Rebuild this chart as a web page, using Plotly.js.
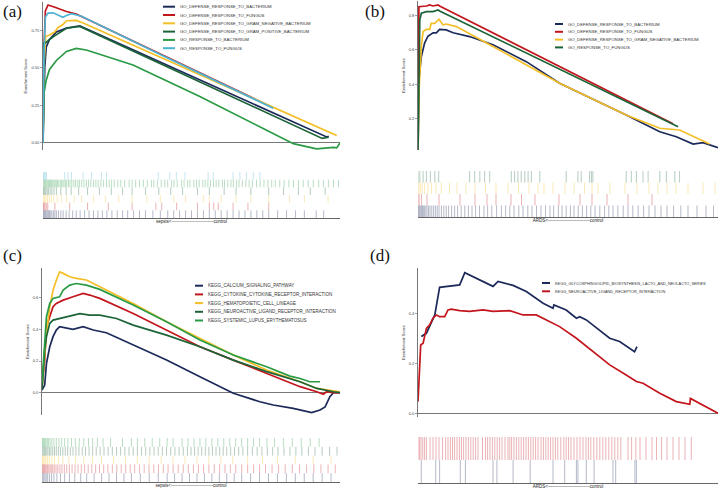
<!DOCTYPE html>
<html><head><meta charset="utf-8">
<script src="https://cdn.plot.ly/plotly-3.0.1.min.js"></script>
<style>html,body{margin:0;padding:0;background:#fff}#p{width:720px;height:491px}</style>
</head><body><div id="p"></div>
<script>
// ---------- DATA ----------
// Panel (a) GO gene sets, sepsis vs control (rank 0..1000)
const aNames = ["GO_DEFENSE_RESPONSE_TO_BACTERIUM","GO_DEFENSE_RESPONSE_TO_FUNGUS","GO_DEFENSE_RESPONSE_TO_GRAM_NEGATIVE_BACTERIUM","GO_DEFENSE_RESPONSE_TO_GRAM_POSITIVE_BACTERIUM","GO_RESPONSE_TO_BACTERIUM","GO_RESPONSE_TO_FUNGUS"];
const aBactX = [0,6,11,22,45,79,124,300,500,700,900,955,962];
const aBactY = [0,0.51,0.64,0.69,0.74,0.766,0.78,0.623,0.445,0.267,0.089,0.04,0.045];
const aFungX = [0,3,8,17,40,79,112,250,400,550,700,775];
const aFungY = [0,0.62,0.88,0.92,0.905,0.877,0.86,0.73,0.588,0.447,0.306,0.235];
const aNegX = [0,3,9,22,39,51,67,79,112,135,300,500,700,900,989];
const aNegY = [0,0.5,0.71,0.72,0.74,0.77,0.79,0.815,0.817,0.80,0.655,0.48,0.304,0.128,0.05];
const aPosX = [0,3,11,22,39,79,124,300,500,700,900,940,962];
const aPosY = [0,0.665,0.67,0.69,0.714,0.765,0.777,0.616,0.433,0.25,0.067,0.03,0.038];
const aRespBX = [0,3,11,22,45,79,112,146,303,528,753,843,865,921,978,989,1000];
const aRespBY = [0,0.33,0.42,0.49,0.55,0.61,0.63,0.62,0.52,0.31,0.085,-0.005,-0.015,-0.04,-0.03,-0.033,0];
const aRespFX = [0,3,8,17,34,55,67,79,96,130,250,400,550,700,775];
const aRespFY = [0,0.58,0.84,0.866,0.868,0.85,0.838,0.85,0.862,0.845,0.727,0.585,0.444,0.303,0.232];
// hits (rug), listed in legend order
const aHitsBact = [0,2,4,6,8,10,13,16,19,22,26,30,35,40,45,52,60,68,78,88,100,112,125,140,155,170,185,200,215,232,250,268,285,305,325,345,370,395,420,440,460,480,500,520,540,560,580,600,620,640,660,680,700,720,740,760,790,820,850,880,920,945];
const aHitsFung = [0,1,2,4,7,11,16,40,90,150,220,300,380,400,450,520,560,575,590,640,690,760];
const aHitsNeg = [0,3,6,10,15,21,28,36,48,62,80,105,130,170,210,255,300,350,395,440,480,540,560,600,650,700,760,830,880,960];
const aHitsPos = [0,2,4,7,10,14,18,24,30,37,45,60,78,95,120,150,190,230,268,300,345,390,430,470,520,560,610,650,700,760,810,860,900,950];
const aHitsRespB = [0,3,5,8,10,13,16,19,22,25,28,31,34,38,41,45,49,53,58,62,67,71,76,80,86,91,97,104,110,117,123,130,138,146,153,161,170,178,186,195,204,214,223,231,240,252,262,275,290,300,312,325,338,351,365,373,385,398,410,420,433,441,452,466,475,487,495,508,517,526,538,546,555,564,574,583,592,604,611,622,633,641,652,660,671,683,694,705,719,731,744,757,770,782,797,812,828,843,860,876,893,910,928,944,961,978,995];
const aHitsRespF = [0,2,5,8,12,73,84,96,135,163,197,214,388,427,449,478,556,573,640,663,685,708,730];
const aTicks = [0,0.25,0.5,0.75];
const aTickText = ["0.00","0.25","0.50","0.75"];
const aLabel = "sepsis<----------------------------control";

// Panel (b) GO gene sets, ARDS vs control
const bNames = ["GO_DEFENSE_RESPONSE_TO_BACTERIUM","GO_DEFENSE_RESPONSE_TO_FUNGUS","GO_DEFENSE_RESPONSE_TO_GRAM_NEGATIVE_BACTERIUM","GO_RESPONSE_TO_FUNGUS"];
const bBactX = [0,3,11,22,33,50,61,72,94,117,172,250,361,472,694,806,861,917,950,1000];
const bBactY = [0,0.425,0.56,0.64,0.68,0.70,0.70,0.72,0.717,0.70,0.678,0.63,0.532,0.406,0.221,0.124,0.095,0.052,0.06,0.031];
const bFungX = [0,3,28,39,50,67,72,206,400,600,800,850];
const bFungY = [0,0.852,0.856,0.862,0.856,0.862,0.856,0.738,0.567,0.39,0.214,0.17];
const bNegX = [0,3,11,17,28,39,44,56,70,83,94,128,250,472,694,806,872,972];
const bNegY = [0,0.35,0.62,0.707,0.72,0.72,0.755,0.755,0.779,0.746,0.751,0.736,0.62,0.406,0.221,0.144,0.134,0.052];
const bRespFX = [0,6,11,28,50,67,72,200,400,600,800,867];
const bRespFY = [0,0.775,0.814,0.823,0.823,0.833,0.827,0.718,0.549,0.379,0.21,0.153];
const bHitsBact = [0,2,4,6,9,12,15,18,22,26,30,35,40,46,52,58,64,70,78,86,94,102,112,122,132,144,156,168,180,192,205,220,232,246,262,278,292,306,320,336,350,366,380,395,410,425,440,452,468,480,494,508,520,534,548,562,576,590,606,622,636,650,666,684,700,716,734,752,770,790,810,830,852,876,900,930,960,985];
const bHitsFung = [0,4,12,30,70,140,190,230,260,310,345,390,470,540,580,630,700,780];
const bHitsNeg = [0,3,8,14,22,33,45,60,78,105,130,160,190,225,260,300,335,370,400,420,450,490,520,555,580,600,640,690,730,770,800,830,860,900,950,990];
const bHitsRespF = [0,6,17,28,41,56,69,172,189,206,222,239,311,322,333,344,356,367,378,406,494,533,544,572,578,583,694,711,728,750,767,806,828,856,872];
const bTicks = [0.2,0.4,0.6,0.8];
const bTickText = ["0.2","0.4","0.6","0.8"];
const bLabel = "ARDS<----------------------------control";

// Panel (c) KEGG pathways, sepsis vs control
const cNames = ["KEGG_CALCIUM_SIGNALING_PATHWAY","KEGG_CYTOKINE_CYTOKINE_RECEPTOR_INTERACTION","KEGG_HEMATOPOIETIC_CELL_LINEAGE","KEGG_NEUROACTIVE_LIGAND_RECEPTOR_INTERACTION","KEGG_SYSTEMIC_LUPUS_ERYTHEMATOSUS"];
const cCalX = [0,9,15,26,37,48,59,82,104,138,172,216,306,418,530,642,731,776,843,905,933,950,961,966,978,1000];
const cCalY = [0.017,0.048,0.185,0.29,0.354,0.396,0.417,0.406,0.4,0.417,0.396,0.379,0.301,0.206,0.101,-0.004,-0.057,-0.078,-0.099,-0.126,-0.11,-0.09,-0.046,-0.025,0,0];
const cCytX = [0,9,15,26,37,48,71,104,138,160,194,306,418,530,642,754,866,922,944,955,978,1000];
const cCytY = [0.04,0.206,0.417,0.48,0.543,0.564,0.585,0.606,0.627,0.617,0.596,0.501,0.396,0.29,0.206,0.122,0.038,0.006,-0.01,0.006,0,0];
const cHemX = [0,15,26,37,48,59,71,93,115,149,194,306,418,530,642,754,866,922,978,1000];
const cHemY = [0.03,0.375,0.543,0.648,0.71,0.764,0.754,0.733,0.722,0.712,0.67,0.564,0.448,0.343,0.238,0.143,0.069,0.027,0.013,0.006];
const cNeuX = [0,9,15,26,37,59,82,104,127,160,194,250,306,418,530,642,709,754,866,922,978,1000];
const cNeuY = [0.02,0.27,0.354,0.438,0.459,0.469,0.48,0.49,0.5,0.49,0.49,0.469,0.427,0.364,0.29,0.206,0.164,0.133,0.069,0.027,0.006,0];
const cLupX = [0,15,26,37,59,71,93,115,149,194,306,418,530,642,754,832,866,899,933];
const cLupY = [0.06,0.48,0.564,0.596,0.606,0.648,0.68,0.69,0.68,0.653,0.554,0.448,0.333,0.238,0.164,0.105,0.09,0.069,0.069];
const cHitsCal = [0,3,6,10,14,19,25,32,40,50,62,76,92,110,130,150,175,200,225,250,275,300,330,360,390,420,445,470,495,520,545,570,595,620,645,670,700,730,760,790,820,850,880,910,940,970];
const cHitsCyt = [0,2,4,6,8,10,13,16,19,23,27,31,36,41,47,53,60,67,75,83,92,101,111,121,132,143,155,167,180,193,207,221,236,251,266,281,296,311,327,343,359,375,391,407,423,440,457,474,491,508,525,542,560,578,596,614,632,650,670,690,710,730,750,772,794,816,840,864,888,912,936,960,984];
const cHitsHem = [0,2,4,7,10,14,19,25,33,42,55,70,90,112,140,170,200,240,280,320,360,400,440,480,520,560,600,640,690,740,790,850,910,970];
const cHitsNeu = [0,3,6,9,12,16,20,25,30,36,42,48,55,62,70,78,86,95,104,114,124,135,146,158,170,182,195,208,222,236,250,264,278,292,306,320,334,348,362,376,390,404,418,432,446,460,474,488,500,512,524,536,548,560,572,584,596,608,620,633,646,660,674,690,706,722,738,756,774,792,812,832,852,872,894,916,940,965,990];
const cHitsLup = [0,2,4,6,8,11,14,18,22,27,33,40,48,57,66,76,87,99,112,125,140,156,170,186,205,230,270,300,320,345,370,395,420,440,470,490,510,530,550,570,590,610,630,650,670,690,710,730,755,780,810,840,870,900,930];
const cTicks = [0,0.2,0.4,0.6];
const cTickText = ["0.0","0.2","0.4","0.6"];
const cLabel = "sepsis<----------------------------control";

// Panel (d) KEGG pathways, ARDS vs control
const dNames = ["KEGG_GLYCOSPHINGOLIPID_BIOSYNTHESIS_LACTO_AND_NEOLACTO_SERIES","KEGG_NEUROACTIVE_LIGAND_RECEPTOR_INTERACTION"];
const dGlyX = [11,28,56,72,139,156,250,267,317,361,417,450,453,494,528,539,561,583,639,672,722,730];
const dGlyY = [0.309,0.322,0.396,0.507,0.517,0.566,0.511,0.531,0.515,0.49,0.443,0.423,0.436,0.416,0.383,0.389,0.376,0.356,0.302,0.289,0.248,0.268];
const dNeuX = [0,3,9,17,22,28,39,50,61,72,89,100,111,139,172,217,250,306,350,394,428,472,528,583,639,694,728,750,806,861,906,908,917,972,1000];
const dNeuY = [0.047,0.148,0.275,0.282,0.309,0.342,0.356,0.383,0.396,0.389,0.389,0.416,0.419,0.413,0.41,0.416,0.41,0.413,0.396,0.396,0.376,0.349,0.302,0.248,0.195,0.154,0.128,0.121,0.081,0.047,0.036,0.06,0.054,0.02,0];
const dHitsGly = [11,59,72,141,158,250,263,317,374,450,489,528,533,561,587,650,659,723,728];
const dHitsNeu = [0,5,10,16,22,28,40,50,60,70,82,92,100,108,115,122,130,138,145,152,160,168,176,184,192,200,215,225,232,240,248,256,264,272,280,290,300,306,312,320,328,336,344,352,360,368,376,384,392,400,410,418,426,434,442,450,458,466,476,486,494,502,510,520,530,540,550,560,568,576,586,596,606,616,626,636,646,656,666,676,700,712,726,740,760,780,795,812,830,850,870,890,911];
const dTicks = [0,0.2,0.4];
const dTickText = ["0.0","0.2","0.4"];
const dLabel = "ARDS<----------------------------control";

// ---------- STYLE ----------
const C = {navy:"#1c2a5a", red:"#c3151c", yellow:"#f4bf26", dgreen:"#1c6438", green:"#2a9a45", cyan:"#4db3d3"};
const W = 720, H = 491;
const px = v => v / W, py = v => 1 - v / H;
const FONT = "Liberation Sans, Arial, sans-serif";

const panels = [
  { id:"a", curves:[[aBactX,aBactY,C.navy],[aFungX,aFungY,C.red],[aNegX,aNegY,C.yellow],[aPosX,aPosY,C.dgreen],[aRespBX,aRespBY,C.green],[aRespFX,aRespFY,C.cyan]],
    names:aNames, hits:[aHitsBact,aHitsFung,aHitsNeg,aHitsPos,aHitsRespB,aHitsRespF],
    ticks:aTicks, tickText:aTickText, label:aLabel,
    xd:[43,340], yd:[2,150], yr:[-0.047,0.94], zero:true, rd:[172,218],
    leg:{x:163, y0:6.7, dy:8.3, len:12, fs:4.3}, tag:{x:1, y:11, t:"(a)"} },
  { id:"b", curves:[[bBactX,bBactY,C.navy],[bFungX,bFungY,C.red],[bNegX,bNegY,C.yellow],[bRespFX,bRespFY,C.dgreen]],
    names:bNames, hits:[bHitsBact,bHitsFung,bHitsNeg,bHitsRespF],
    ticks:bTicks, tickText:bTickText, label:bLabel,
    xd:[418,718], yd:[1,150], yr:[0.0175,0.885], zero:false, rd:[171,217],
    leg:{x:555, y0:24, dy:7.8, len:8, fs:4.3}, tag:{x:363, y:11, t:"(b)"} },
  { id:"c", curves:[[cCalX,cCalY,C.navy],[cCytX,cCytY,C.red],[cHemX,cHemY,C.yellow],[cNeuX,cNeuY,C.dgreen],[cLupX,cLupY,C.green]],
    names:cNames, hits:[cHitsCal,cHitsCyt,cHitsHem,cHitsNeu,cHitsLup],
    ticks:cTicks, tickText:cTickText, label:cLabel,
    xd:[42,340], yd:[268,415], yr:[-0.141,0.788], zero:true, rd:[438,482],
    leg:{x:195, y0:285.7, dy:8.7, len:8, fs:4.5}, tag:{x:1, y:255, t:"(c)"} },
  { id:"d", curves:[[dGlyX,dGlyY,C.navy],[dNeuX,dNeuY,C.red]],
    names:dNames, hits:[dHitsGly,dHitsNeu],
    ticks:dTicks, tickText:dTickText, label:dLabel,
    xd:[418,718], yd:[268,417], yr:[-0.015,0.585], zero:true, rd:[437,483],
    leg:{x:542, y0:283, dy:8.3, len:8, fs:3.9}, tag:{x:368, y:255, t:"(d)"} }
];

const data = [];
const layout = {
  width: W, height: H, margin:{l:0,r:0,t:0,b:0},
  paper_bgcolor:"#fff", plot_bgcolor:"rgba(0,0,0,0)",
  showlegend:false, font:{family:FONT, color:"#333"},
  shapes:[], annotations:[]
};

panels.forEach((p, i) => {
  const n1 = 2*i+1, n2 = 2*i+2;
  const xa = "x"+n1, ya = "y"+n1, xr = "x"+n2, yr = "y"+n2;
  const xk = "xaxis"+n1, yk = "yaxis"+n1, xrk = "xaxis"+n2, yrk = "yaxis"+n2;
  p.curves.forEach((c, k) => {
    data.push({type:"scatter", mode:"lines", x:c[0], y:c[1], xaxis:xa, yaxis:ya,
      line:{color:c[2], width:1.7}, hoverinfo:"skip", name:p.names[k]});
  });
  layout[xk] = {domain:[px(p.xd[0]),px(p.xd[1])], anchor:ya, range:[0,1000], visible:false, fixedrange:true};
  layout[yk] = {domain:[py(p.yd[1]),py(p.yd[0])], anchor:xa, range:p.yr, showgrid:false,
    showline:true, linecolor:"#777", linewidth:1, ticks:"outside", ticklen:2, tickwidth:0.7, tickcolor:"#777",
    tickvals:p.ticks, ticktext:p.tickText, tickfont:{size:4, color:"#444"},
    zeroline:p.zero, zerolinecolor:"#777", zerolinewidth:1,
    title:{text:"Enrichment Score", font:{size:4.4, color:"#333"}, standoff:3}, automargin:false};
  const nr = p.hits.length;
  p.hits.forEach((h, k) => {
    const lo = k, hi = k + 1;
    const xs = [], ys = [];
    h.forEach(v => { xs.push(v, v, null); ys.push(lo, hi, null); });
    const col = p.curves[k][2];
    data.push({type:"scatter", mode:"lines", x:xs, y:ys, xaxis:xr, yaxis:yr,
      line:{color:col, width:0.8}, opacity:0.4, hoverinfo:"skip", connectgaps:false});
  });
  layout[xrk] = {domain:[px(p.xd[0]),px(p.xd[1])], anchor:yr, range:[0,1000], showgrid:false, zeroline:false,
    showline:true, linecolor:"#666", linewidth:1, ticks:"", showticklabels:false,
    title:{text:p.label, font:{size:4.5, color:"#222"}, standoff:1}, automargin:false};
  layout[yrk] = {domain:[py(p.rd[1]),py(p.rd[0])], anchor:xr, range:[0,nr], visible:false, fixedrange:true};
  p.names.forEach((nm, k) => {
    const yy = p.leg.y0 + k*p.leg.dy;
    layout.shapes.push({type:"line", xref:"paper", yref:"paper", x0:px(p.leg.x), x1:px(p.leg.x+p.leg.len),
      y0:py(yy), y1:py(yy), line:{color:p.curves[k][2], width:2}});
    layout.annotations.push({xref:"paper", yref:"paper", x:px(p.leg.x+p.leg.len+2.5), y:py(yy),
      xanchor:"left", yanchor:"middle", showarrow:false, text:nm, font:{size:p.leg.fs, color:"#333"}});
  });
  layout.annotations.push({xref:"paper", yref:"paper", x:px(p.tag.x), y:py(p.tag.y), xanchor:"left", yanchor:"middle",
    showarrow:false, text:p.tag.t, font:{family:"Liberation Serif, Times New Roman, serif", size:17, color:"#111"}});
});

Plotly.newPlot("p", data, layout, {staticPlot:true, displayModeBar:false});
</script></body></html>
